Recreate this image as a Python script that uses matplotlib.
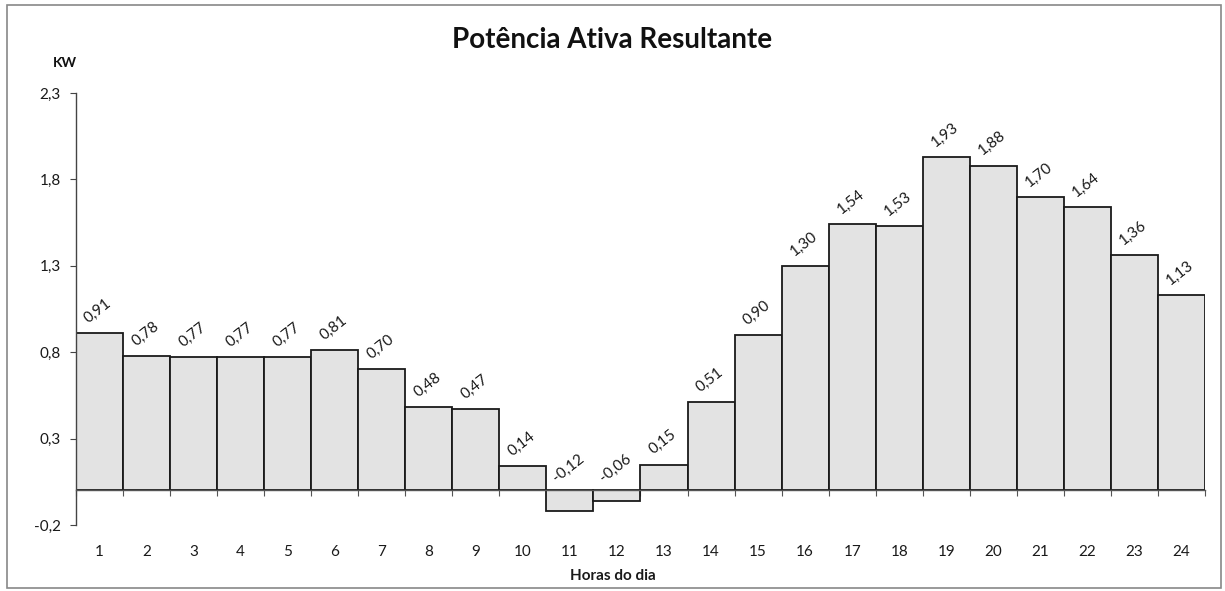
import matplotlib
matplotlib.use("Agg")
import matplotlib.pyplot as plt
from matplotlib.patches import Rectangle
import numpy as np

hours = list(range(1, 25))
power_kw = [0.91, 0.78, 0.77, 0.77, 0.77, 0.81, 0.70, 0.48, 0.47, 0.14,
            -0.12, -0.06, 0.15, 0.51, 0.90, 1.30, 1.54, 1.53, 1.93, 1.88,
            1.70, 1.64, 1.36, 1.13]
y_ticks = [-0.2, 0.3, 0.8, 1.3, 1.8, 2.3]

plt.rcParams['font.family'] = ['Lato', 'DejaVu Sans']

fig = plt.figure(figsize=(12.25, 5.91), dpi=100)
ax = fig.add_axes([0.062, 0.1117, 0.9217, 0.7309])

x = np.arange(len(hours))
ax.bar(x, power_kw, width=1.0, color='#e3e3e3', edgecolor='#1a1a1a', linewidth=1.3, zorder=2)

ax.set_xlim(-0.5, len(hours) - 0.5)
ax.set_ylim(y_ticks[0], y_ticks[-1])

# value labels, rotated, above each bar (or above the zero line for negatives)
for xi, v in zip(x, power_kw):
    ax.annotate(f"{v:.2f}".replace('.', ','), xy=(xi, max(v, 0)), xytext=(-1, 16),
                textcoords='offset points', ha='center', va='center',
                rotation=38, fontsize=11, color='#1a1a1a')

# axes styling
for s in ('top', 'right'):
    ax.spines[s].set_visible(False)
ax.spines['left'].set_color('#444444')
ax.spines['left'].set_linewidth(1.0)
ax.spines['bottom'].set_position(('data', 0))
ax.spines['bottom'].set_color('#555555')
ax.spines['bottom'].set_linewidth(1.0)

ax.set_yticks(y_ticks)
ax.set_yticklabels([f"{t:.1f}".replace('.', ',') for t in y_ticks], fontsize=11, color='#1a1a1a')
ax.tick_params(axis='y', direction='out', length=4, width=0.8, color='#444444', pad=7)

ax.set_xticks(x)
ax.set_xticklabels([str(h) for h in hours], fontsize=11, color='#1a1a1a')
ax.set_xticks(np.arange(len(hours) + 1) - 0.5, minor=True)
ax.tick_params(axis='x', which='major', length=0, pad=39)
ax.tick_params(axis='x', which='minor', direction='out', length=4, width=0.8, color='#555555')

fig.text(0.5, 0.025, 'Horas do dia', ha='center', va='center',
         fontsize=11, fontweight='bold', color='#1a1a1a')
fig.text(0.5, 0.932, 'Potência Ativa Resultante', ha='center', va='center',
         fontsize=20, fontweight='bold', color='#111111')
fig.text(0.053, 0.893, 'KW', ha='center', va='center', fontsize=10,
         fontweight='bold', color='#111111')

# outer chart frame
fig.patches.append(Rectangle((0.006, 0.005), 0.991, 0.986, transform=fig.transFigure,
                             fill=False, edgecolor='#888888', linewidth=1.2))

fig.savefig('out.png', dpi=100, facecolor='white')
